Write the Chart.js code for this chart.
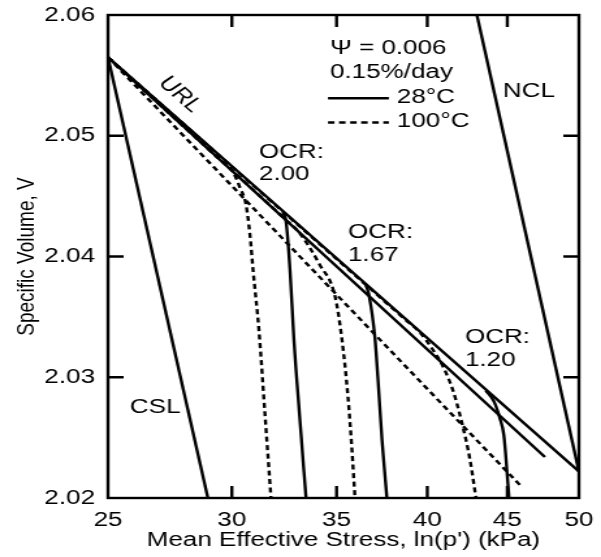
<!DOCTYPE html>
<html lang="en">
<head>
    <meta charset="UTF-8">
    <title>Specific Volume vs Mean Effective Stress</title>
    <script src="https://cdn.jsdelivr.net/npm/chart.js"></script>
    <style>
        html, body {
            margin: 0;
            padding: 0;
            background-color: #fff;
            overflow: hidden;
        }
        /* the original figure is stretched sideways, so draw narrow and scale */
        #chart {
            display: block;
            transform: scaleX(1.3009);
            transform-origin: 0 0;
        }
    </style>
</head>
<body>
    <canvas id="chart" width="462" height="557"></canvas>

    <script>
        // axis ticks
        const xTicks = [25, 30, 35, 40, 45, 50];
        const yTicks = [2.02, 2.03, 2.04, 2.05, 2.06];

        // reference lines (p' in kPa, specific volume)
        const urlP = [25, 50];
        const urlV = [2.0565, 2.0222];
        const url2P = [25, 47.56];
        const url2V = [2.0565, 2.0234];
        const nclP = [43.03, 50];
        const nclV = [2.06, 2.0222];
        const cslP = [25, 28.96];
        const cslV = [2.0565, 2.02];
        const hotUrlP = [25, 45.98];
        const hotUrlV = [2.0565, 2.0209];

        // 28°C stress paths
        const c200P = [32.34, 32.49, 32.68, 32.87, 33.16, 33.46];
        const c200V = [2.0436, 2.0429, 2.0389, 2.0331, 2.0265, 2.02];
        const c167P = [36.55, 36.71, 37.03, 37.20, 37.42, 37.69];
        const c167V = [2.0376, 2.0368, 2.0333, 2.0298, 2.0248, 2.02];
        const c120P = [43.60, 44.12, 44.51, 44.77, 44.97, 45.11];
        const c120V = [2.0289, 2.0280, 2.0266, 2.0252, 2.0223, 2.02];

        // 100°C stress paths
        const h200P = [25, 29.48, 30.05, 30.36, 30.63, 30.81, 30.95, 31.22, 31.50, 31.78];
        const h200V = [2.0565, 2.0480, 2.0470, 2.0457, 2.0443, 2.0418, 2.0389, 2.0339, 2.0269, 2.02];
        const h167P = [25, 32.44, 33.07, 34.15, 34.92, 35.28, 35.59, 35.80, 35.96];
        const h167V = [2.0565, 2.0431, 2.0421, 2.0393, 2.0367, 2.0331, 2.0284, 2.0240, 2.02];
        const h120P = [25, 38.70, 39.57, 40.27, 40.93, 41.54, 42.15, 42.59, 42.97];
        const h120V = [2.0565, 2.0348, 2.0337, 2.0324, 2.0309, 2.0289, 2.0259, 2.0232, 2.02];

        // text placed on the plot, in data coordinates
        const notes = [
            { text: 'OCR:', p: 31.22, v: 2.0486 },
            { text: '2.00', p: 31.22, v: 2.0468 },
            { text: 'OCR:', p: 35.59, v: 2.0420 },
            { text: '1.67', p: 35.59, v: 2.0401 },
            { text: 'OCR:', p: 42.28, v: 2.0333 },
            { text: '1.20', p: 42.28, v: 2.0314 },
            { text: 'NCL', p: 44.71, v: 2.0537 },
            { text: 'CSL', p: 25.82, v: 2.0275 },
            { text: '\u03A8 = 0.006', p: 34.66, v: 2.0572 },
            { text: '0.15%/day', p: 34.66, v: 2.0552 },
            { text: '28°C', p: 38.25, v: 2.0532 },
            { text: '100°C', p: 38.25, v: 2.0512 }
        ];

        const FONT = "'Liberation Sans', Arial, sans-serif";
        const DASH = [5, 3.5];

        function path(xs, ys, dashed, smooth) {
            return {
                data: xs.map((v, i) => ({ x: v, y: ys[i] })),
                borderColor: '#000',
                borderWidth: 2.4,
                borderDash: dashed ? DASH : [],
                pointRadius: 0,
                showLine: true,
                fill: false,
                tension: 0,
                cubicInterpolationMode: smooth ? 'monotone' : 'default'
            };
        }

        const decorations = {
            id: 'decorations',
            afterDraw(chart) {
                const { ctx, chartArea: a, scales: { x, y } } = chart;
                ctx.save();
                ctx.strokeStyle = '#000';
                ctx.fillStyle = '#000';
                ctx.lineWidth = 2.4;

                // box and inward ticks
                ctx.strokeRect(a.left, a.top, a.right - a.left, a.bottom - a.top);
                ctx.beginPath();
                xTicks.slice(1, -1).forEach(v => {
                    const px = x.getPixelForValue(v);
                    ctx.moveTo(px, a.bottom); ctx.lineTo(px, a.bottom - 12);
                    ctx.moveTo(px, a.top); ctx.lineTo(px, a.top + 12);
                });
                yTicks.slice(1, -1).forEach(v => {
                    const py = y.getPixelForValue(v);
                    ctx.moveTo(a.left, py); ctx.lineTo(a.left + 12, py);
                    ctx.moveTo(a.right, py); ctx.lineTo(a.right - 12, py);
                });
                ctx.stroke();

                // key lines
                const k0 = x.getPixelForValue(34.56), k1 = x.getPixelForValue(37.80);
                let ky = y.getPixelForValue(2.0531);
                ctx.beginPath(); ctx.moveTo(k0, ky); ctx.lineTo(k1, ky); ctx.stroke();
                ky = y.getPixelForValue(2.0511);
                ctx.setLineDash(DASH);
                ctx.beginPath(); ctx.moveTo(k0, ky); ctx.lineTo(k1, ky); ctx.stroke();
                ctx.setLineDash([]);

                // labels
                ctx.font = '20px ' + FONT;
                ctx.textBaseline = 'middle';
                ctx.textAlign = 'left';
                notes.forEach(n => {
                    ctx.fillText(n.text, x.getPixelForValue(n.p), y.getPixelForValue(n.v));
                });

                // URL label follows the line
                const ang = Math.atan2(
                    y.getPixelForValue(urlV[1]) - y.getPixelForValue(urlV[0]),
                    x.getPixelForValue(urlP[1]) - x.getPixelForValue(urlP[0]));
                ctx.translate(x.getPixelForValue(27.80), y.getPixelForValue(2.0534));
                ctx.rotate(ang);
                ctx.textAlign = 'center';
                ctx.fillText('URL', 0, 0);
                ctx.restore();
            }
        };

        new Chart(document.getElementById('chart'), {
            type: 'scatter',
            data: {
                datasets: [
                    path(hotUrlP, hotUrlV, true, false),
                    path(h200P, h200V, true, true),
                    path(h167P, h167V, true, true),
                    path(h120P, h120V, true, true),
                    path(urlP, urlV, false, false),
                    path(url2P, url2V, false, false),
                    path(nclP, nclV, false, false),
                    path(cslP, cslV, false, false),
                    path(c200P, c200V, false, true),
                    path(c167P, c167V, false, true),
                    path(c120P, c120V, false, true)
                ]
            },
            options: {
                responsive: false,
                animation: false,
                layout: { padding: { top: 15, right: 17, left: 0, bottom: 0 } },
                plugins: {
                    legend: { display: false },
                    tooltip: { enabled: false }
                },
                scales: {
                    x: {
                        type: 'logarithmic',
                        min: 25,
                        max: 50,
                        afterBuildTicks: s => { s.ticks = xTicks.map(v => ({ value: v })); },
                        afterFit: s => {
                            s.height = 59;
                            s.paddingLeft = 0;
                            s.paddingRight = 0;
                        },
                        grid: { display: false, drawTicks: false },
                        border: { display: false },
                        ticks: {
                            callback: v => String(v),
                            autoSkip: false,
                            maxRotation: 0,
                            padding: 10,
                            color: '#000',
                            font: { family: FONT, size: 20 }
                        },
                        title: {
                            display: true,
                            text: "Mean Effective Stress, ln(p') (kPa)",
                            color: '#000',
                            padding: 5,
                            font: { family: FONT, size: 20 }
                        }
                    },
                    y: {
                        min: 2.02,
                        max: 2.06,
                        afterBuildTicks: s => { s.ticks = yTicks.map(v => ({ value: v })); },
                        afterFit: s => {
                            s.width = 83;
                            s.paddingTop = 0;
                            s.paddingBottom = 0;
                        },
                        grid: { display: false, drawTicks: false },
                        border: { display: false },
                        ticks: {
                            callback: v => v.toFixed(2),
                            padding: 10,
                            color: '#000',
                            font: { family: FONT, size: 20 }
                        },
                        title: {
                            display: true,
                            text: 'Specific Volume, V',
                            color: '#000',
                            padding: 9,
                            font: { family: FONT, size: 19 }
                        }
                    }
                }
            },
            plugins: [decorations]
        });
    </script>
</body>
</html>
